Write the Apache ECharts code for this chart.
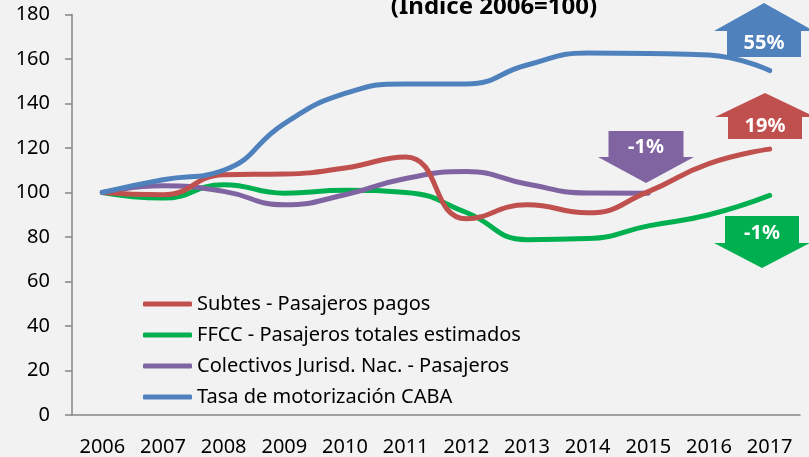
<!DOCTYPE html>
<html lang="es">
<head>
    <meta charset="UTF-8">
    <title>Indice 2006=100</title>
    <script src="https://cdn.jsdelivr.net/npm/echarts@6/dist/echarts.min.js"></script>
    <style>
        html, body { margin: 0; padding: 0; background: #F2F2F2; }
        #chart_box { width: 809px; height: 457px; }
    </style>
</head>
<body>
<div id="chart_box"></div>
<script>
    // datos (indice 2006=100)
    var years = ['2006', '2007', '2008', '2009', '2010', '2011', '2012', '2013', '2014', '2015', '2016', '2017'];
    var subtes = [100, 99, 108, 108.3, 111, 116, 88.2, 94.5, 90.9, 100.4, 113, 119.5];
    var ffcc = [100, 97.5, 103.5, 99.7, 101, 100, 91, 78.8, 79.3, 85, 90, 98.7];
    var colectivos = [100, 103, 100.5, 94.5, 99, 106.3, 109.4, 103.8, 99.8, 99.7, null, null];
    var tasa = [100, 105.7, 110, 131, 144.5, 148.8, 148.8, 157.3, 162.7, 162.5, 161.8, 154.8];
    var seriesNames = ['Subtes - Pasajeros pagos', 'FFCC - Pasajeros totales estimados',
        'Colectivos Jurisd. Nac. - Pasajeros', 'Tasa de motorización CABA'];
    var variaciones = ['19%', '-1%', '-1%', '55%'];

    var colors = ['#C0504D', '#00B050', '#8064A2', '#4F81BD'];
    var font = '"Noto Sans", sans-serif';

    // flecha: cx centro, bw/hw medio ancho cuerpo/cabeza, y0 extremo cuerpo, y1 hombro, y2 punta
    function arrow(cx, bw, hw, y0, y1, y2, color, label, ty) {
        return [{
            type: 'polygon',
            shape: {
                points: [[cx - bw, y0], [cx + bw, y0], [cx + bw, y1], [cx + hw, y1],
                    [cx, y2], [cx - hw, y1], [cx - bw, y1]]
            },
            style: {fill: color},
            z: 10
        }, {
            type: 'text',
            x: cx, y: ty,
            style: {
                text: label, fill: '#fff', font: 'bold 20px ' + font,
                align: 'center', verticalAlign: 'middle'
            },
            z: 11
        }];
    }

    var chart = echarts.init(document.getElementById('chart_box'));

    var graphics = [{
        type: 'text',
        x: 494, y: 7,
        style: {
            text: '(Índice 2006=100)', fill: '#000', font: 'bold 24px ' + font,
            align: 'center', verticalAlign: 'middle'
        }
    }];
    graphics = graphics
        .concat(arrow(764, 37, 50, 57, 31, 3, colors[3], variaciones[3], 43))
        .concat(arrow(765, 37, 50, 139, 117, 93, colors[0], variaciones[0], 126))
        .concat(arrow(646, 37.5, 48, 131, 157, 183, colors[2], variaciones[2], 147))
        .concat(arrow(762, 37, 48, 216, 243, 268, colors[1], variaciones[1], 233));

    var axisColor = '#868686';

    var option = {
        backgroundColor: '#F2F2F2',
        animation: false,
        grid: {  //area de trazado
            left: 72,
            right: 9,
            top: 14.5,
            bottom: 41.5
        },
        legend: {
            orient: 'vertical',
            left: 143,
            top: 294,
            padding: 0,
            itemWidth: 49,
            itemHeight: 5,
            itemGap: 11,
            icon: 'roundRect',
            textStyle: {fontFamily: font, fontSize: 20, color: '#000'},
            data: seriesNames
        },
        xAxis: {
            type: 'category',
            data: years,
            boundaryGap: true,
            axisLine: {lineStyle: {color: axisColor, width: 1.5}},
            axisTick: {length: 8, lineStyle: {color: axisColor, width: 1.5}},
            axisLabel: {fontFamily: font, fontSize: 20, color: '#000', margin: 22, interval: 0}
        },
        yAxis: {
            type: 'value',
            min: 0,
            max: 180,
            interval: 20,
            axisLine: {show: true, lineStyle: {color: axisColor, width: 1.5}},
            axisTick: {show: true, length: 7, lineStyle: {color: axisColor, width: 1.5}},
            splitLine: {show: false},
            axisLabel: {fontFamily: font, fontSize: 20, color: '#000', margin: 22}
        },
        graphic: graphics,
        series: [
            {name: seriesNames[1], data: ffcc, color: colors[1]},
            {name: seriesNames[2], data: colectivos, color: colors[2]},
            {name: seriesNames[0], data: subtes, color: colors[0]},
            {name: seriesNames[3], data: tasa, color: colors[3]}
        ].map(function (s) {
            s.type = 'line';
            s.smooth = 0.5;
            s.symbol = 'none';
            s.lineStyle = {width: 5, color: s.color, cap: 'round'};
            s.itemStyle = {color: s.color};
            return s;
        })
    };
    chart.setOption(option);
</script>
</body>
</html>
